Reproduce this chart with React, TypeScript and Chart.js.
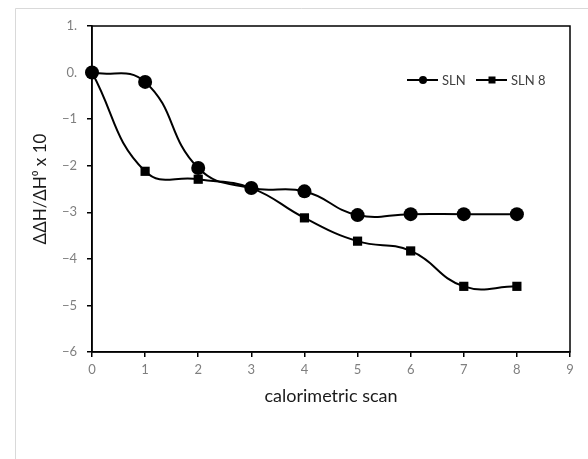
import React, { useEffect, useRef } from "react";
import { Chart, registerables } from "chart.js";

Chart.register(...registerables);

const scans = [0, 1, 2, 3, 4, 5, 6, 7, 8];
const slnValues = [0, -0.2, -2.05, -2.48, -2.55, -3.06, -3.04, -3.04, -3.04];
const sln8Values = [0, -2.12, -2.29, -2.48, -3.12, -3.62, -3.83, -4.59, -4.59];
const seriesNames = ["SLN", "SLN 8"];
const yTickValues = [1, 0, -1, -2, -3, -4, -5, -6];
const yTickLabels = ["1.", "0.", "\u22121", "\u22122", "\u22123", "\u22124", "\u22125", "\u22126"];
const xTitle = "calorimetric scan";
const yTitle = "\u0394\u0394H/\u0394H\u2070 x 10";

const FONT = "Lato, 'Open Sans', sans-serif";

const framePlugin = {
  id: "frame",
  beforeDraw(chart: any) {
    const ctx = chart.ctx;
    ctx.save();
    ctx.fillStyle = "#ffffff";
    ctx.fillRect(0, 0, chart.width, chart.height);
    ctx.strokeStyle = "#d9d9d9";
    ctx.lineWidth = 1;
    ctx.beginPath();
    ctx.moveTo(15.5, chart.height);
    ctx.lineTo(15.5, 8.5);
    ctx.lineTo(chart.width, 8.5);
    ctx.stroke();
    ctx.restore();
  },
  beforeDatasetsDraw(chart: any) {
    const { ctx, chartArea } = chart;
    ctx.save();
    ctx.strokeStyle = "#000000";
    ctx.lineWidth = 1.5;
    ctx.strokeRect(chartArea.left, chartArea.top, chartArea.right - chartArea.left, chartArea.bottom - chartArea.top);
    ctx.restore();
  },
  afterDraw(chart: any) {
    const ctx = chart.ctx;
    ctx.save();
    const y = 80;
    const items = [
      { x: 407, style: "circle", label: seriesNames[0] },
      { x: 476, style: "rect", label: seriesNames[1] },
    ];
    for (const it of items) {
      ctx.strokeStyle = "#000";
      ctx.lineWidth = 2;
      ctx.beginPath();
      ctx.moveTo(it.x, y);
      ctx.lineTo(it.x + 31, y);
      ctx.stroke();
      ctx.fillStyle = "#000";
      const cx = it.x + 16;
      if (it.style === "circle") {
        ctx.beginPath();
        ctx.arc(cx, y, 4, 0, Math.PI * 2);
        ctx.fill();
      } else {
        ctx.fillRect(cx - 3.5, y - 3.5, 7, 7);
      }
      ctx.fillStyle = "#404040";
      ctx.font = "13px " + FONT;
      ctx.textBaseline = "middle";
      ctx.textAlign = "left";
      ctx.fillText(it.label, it.x + 35, y + 1);
    }
    ctx.restore();
  },
};

export default function App() {
  const ref = useRef<HTMLCanvasElement | null>(null);
  useEffect(() => {
    if (!ref.current) return;
    const chart = new Chart(ref.current, {
      type: "line",
      data: {
        datasets: [
          {
            label: seriesNames[0],
            data: scans.map((x, i) => ({ x, y: slnValues[i] })),
            borderColor: "#000",
            backgroundColor: "#000",
            borderWidth: 2,
            pointStyle: "circle",
            pointRadius: 7,
            pointBorderWidth: 0,
            tension: 0.45,
            clip: false as any,
          },
          {
            label: seriesNames[1],
            data: scans.map((x, i) => ({ x, y: sln8Values[i] })),
            borderColor: "#000",
            backgroundColor: "#000",
            borderWidth: 2,
            pointStyle: "rect",
            pointRadius: 6.5,
            pointBorderWidth: 0,
            tension: 0.45,
            clip: false as any,
          },
        ],
      },
      options: {
        responsive: false,
        animation: false,
        layout: { padding: { top: 26, right: 18, left: 0, bottom: 0 } },
        plugins: { legend: { display: false }, tooltip: { enabled: false } },
        scales: {
          x: {
            type: "linear",
            min: 0,
            max: 9,
            afterFit: (s: any) => {
              s.height = 107;
            },
            ticks: {
              stepSize: 1,
              color: "#7f7f7f",
              font: { family: FONT, size: 13 },
              padding: 5,
            },
            grid: { display: true, drawOnChartArea: false, drawTicks: true, tickLength: 5, color: "#000", lineWidth: 1.5 },
            border: { display: true, color: "#000", width: 1.5 },
            title: {
              display: true,
              text: xTitle,
              color: "#1a1a1a",
              font: { family: FONT, size: 18 },
              padding: { top: 0, bottom: 52 },
            },
          },
          y: {
            type: "linear",
            min: -6,
            max: 1,
            afterFit: (s: any) => {
              s.width = 92;
            },
            afterBuildTicks: (s: any) => {
              s.ticks = yTickValues.map((v) => ({ value: v }));
            },
            ticks: {
              color: "#7f7f7f",
              font: { family: FONT, size: 13 },
              padding: 10,
              callback: (v: any) => {
                const i = yTickValues.indexOf(Number(v));
                return i >= 0 ? yTickLabels[i] : "";
              },
            },
            grid: { display: true, drawOnChartArea: false, drawTicks: true, tickLength: 5, color: "#000", lineWidth: 1.5 },
            border: { display: true, color: "#000", width: 1.5 },
            title: {
              display: true,
              text: yTitle,
              color: "#1a1a1a",
              font: { family: FONT, size: 17 },
              padding: { top: 30, bottom: 0 },
            },
          },
        },
      },
      plugins: [framePlugin],
    });
    return () => chart.destroy();
  }, []);
  return (
    <div style={{ position: "fixed", left: 0, top: 0, width: 588, height: 459 }}>
      <canvas ref={ref} width={588} height={459} />
    </div>
  );
}
